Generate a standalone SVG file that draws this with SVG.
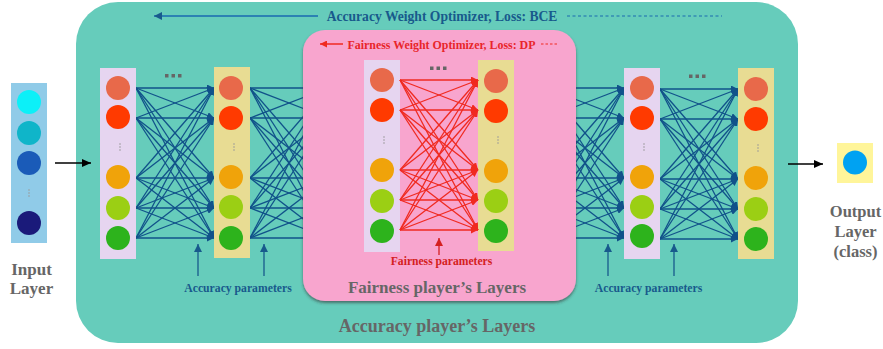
<svg xmlns="http://www.w3.org/2000/svg" xmlns:xlink="http://www.w3.org/1999/xlink" width="883" height="349" viewBox="0 0 883 349">
<style>
.lav{fill:#E6D5F0}
.yel{fill:#E8DC93}
.c1{fill:#E8694A}.c2{fill:#FF3A00}.c3{fill:#F0A30A}.c4{fill:#9BCF14}.c5{fill:#2DB31C}
.vd{fill:#999}
.sq{fill:#666}
.t{font-family:"Liberation Serif","Times New Roman",serif;font-weight:bold;text-anchor:middle}
.gray{fill:#666}
.blue{fill:#185A8C}
.red{fill:#E8252A}
.bl{stroke:#11528A;stroke-width:1.3;fill:none}
.rl{stroke:#F02A20;stroke-width:1.3;fill:none}
</style>
<defs>
<marker id="ab" markerUnits="userSpaceOnUse" markerWidth="8" markerHeight="7" refX="7" refY="3.5" orient="auto"><path d="M0,0 L7,3.5 L0,7 z" fill="#11528A"/></marker>
<marker id="ar" markerUnits="userSpaceOnUse" markerWidth="8" markerHeight="7" refX="7" refY="3.5" orient="auto"><path d="M0,0 L7,3.5 L0,7 z" fill="#F02A20"/></marker>
<marker id="ab2" markerUnits="userSpaceOnUse" markerWidth="9" markerHeight="8" refX="8" refY="4" orient="auto"><path d="M0,0 L8,4 L0,8 z" fill="#185A8C"/></marker>
<marker id="ar2" markerUnits="userSpaceOnUse" markerWidth="9" markerHeight="8" refX="8" refY="4" orient="auto"><path d="M0,0 L8,4 L0,8 z" fill="#D42020"/></marker>
<marker id="ak" markerUnits="userSpaceOnUse" markerWidth="10" markerHeight="8" refX="9" refY="4" orient="auto"><path d="M0,0 L9,4 L0,8 z" fill="#000"/></marker>
<g id="mesha">
<line x1="0" y1="0" x2="78" y2="0"/><line x1="0" y1="0" x2="78" y2="30"/><line x1="0" y1="0" x2="78" y2="90"/><line x1="0" y1="0" x2="78" y2="120"/><line x1="0" y1="0" x2="78" y2="150"/>
<line x1="0" y1="30" x2="78" y2="0"/><line x1="0" y1="30" x2="78" y2="30"/><line x1="0" y1="30" x2="78" y2="90"/><line x1="0" y1="30" x2="78" y2="120"/><line x1="0" y1="30" x2="78" y2="150"/>
<line x1="0" y1="90" x2="78" y2="0"/><line x1="0" y1="90" x2="78" y2="30"/><line x1="0" y1="90" x2="78" y2="90"/><line x1="0" y1="90" x2="78" y2="120"/><line x1="0" y1="90" x2="78" y2="150"/>
<line x1="0" y1="120" x2="78" y2="0"/><line x1="0" y1="120" x2="78" y2="30"/><line x1="0" y1="120" x2="78" y2="90"/><line x1="0" y1="120" x2="78" y2="120"/><line x1="0" y1="120" x2="78" y2="150"/>
<line x1="0" y1="150" x2="78" y2="0"/><line x1="0" y1="150" x2="78" y2="30"/><line x1="0" y1="150" x2="78" y2="90"/><line x1="0" y1="150" x2="78" y2="120"/><line x1="0" y1="150" x2="78" y2="150"/>
</g>
<filter id="sh" x="-5%" y="-5%" width="110%" height="115%"><feDropShadow dx="0" dy="2" stdDeviation="1.5" flood-color="#333" flood-opacity="0.6"/></filter>
</defs>

<rect id="accuracy-box" x="76" y="2" width="722" height="341" rx="42" fill="#66CCBB"/>

<g id="input-layer">
<rect x="11" y="83" width="36" height="160" fill="#90CBE8"/>
<circle cx="29" cy="102" r="12" fill="#0CF0F8"/>
<circle cx="29" cy="133" r="12" fill="#0FB5C9"/>
<circle cx="29" cy="163" r="12" fill="#1A5BB8"/>
<circle cx="29" cy="190" r="0.8" class="vd"/><circle cx="29" cy="193" r="0.8" class="vd"/><circle cx="29" cy="196" r="0.8" class="vd"/>
<circle cx="29" cy="223" r="12" fill="#1A1A7A"/>
<text class="t gray" x="31.5" y="275" font-size="17">Input</text>
<text class="t gray" x="31.5" y="294" font-size="17">Layer</text>
</g>

<g id="connectors">
<use xlink:href="#mesha" class="bl" transform="translate(250,88)"/>
<use xlink:href="#mesha" class="bl" marker-end="url(#ab)" transform="translate(546,88)"/>
<use xlink:href="#mesha" class="bl" marker-end="url(#ab)" transform="translate(136,88)"/>
<use xlink:href="#mesha" class="bl" marker-end="url(#ab)" transform="translate(660,89)"/>
<line x1="55" y1="163" x2="91" y2="163" stroke="#000" stroke-width="1.6" marker-end="url(#ak)"/>
<line x1="788" y1="164" x2="823" y2="164" stroke="#000" stroke-width="1.6" marker-end="url(#ak)"/>
<line x1="318" y1="16" x2="154" y2="16" stroke="#1A6AB0" stroke-width="1.3" marker-end="url(#ab2)"/>
<line x1="567" y1="16" x2="722" y2="16" stroke="#1A6AB0" stroke-width="1.2" stroke-dasharray="3,2.5"/>
<line x1="198" y1="276" x2="198" y2="244" stroke="#185A8C" stroke-width="1.3" marker-end="url(#ab2)"/>
<line x1="264" y1="276" x2="264" y2="244" stroke="#185A8C" stroke-width="1.3" marker-end="url(#ab2)"/>
<line x1="608" y1="276" x2="608" y2="244" stroke="#185A8C" stroke-width="1.3" marker-end="url(#ab2)"/>
<line x1="674" y1="276" x2="674" y2="244" stroke="#185A8C" stroke-width="1.3" marker-end="url(#ab2)"/>
</g>

<g id="layer1">
<rect x="100" y="68" width="36" height="191" class="lav"/>
<circle cx="118" cy="88" r="12" class="c1"/><circle cx="118" cy="117" r="12" class="c2"/>
<circle cx="120" cy="144" r="0.8" class="vd"/><circle cx="120" cy="147" r="0.8" class="vd"/><circle cx="120" cy="150" r="0.8" class="vd"/>
<circle cx="118" cy="177" r="12" class="c3"/><circle cx="118" cy="208" r="12" class="c4"/><circle cx="118" cy="238" r="12" class="c5"/>
</g>
<g id="dots1"><rect x="165" y="74" width="3.5" height="3.5" class="sq"/><rect x="171.5" y="74" width="3.5" height="3.5" class="sq"/><rect x="178" y="74" width="3.5" height="3.5" class="sq"/></g>
<g id="layer2">
<rect x="214" y="67" width="36" height="191" class="yel"/>
<circle cx="231" cy="88" r="12" class="c1"/><circle cx="231" cy="118" r="12" class="c2"/>
<circle cx="234" cy="144" r="0.8" class="vd"/><circle cx="234" cy="147" r="0.8" class="vd"/><circle cx="234" cy="150" r="0.8" class="vd"/>
<circle cx="231" cy="177" r="12" class="c3"/><circle cx="231" cy="207" r="12" class="c4"/><circle cx="231" cy="238" r="12" class="c5"/>
</g>

<g id="fairness-box">
<rect x="303" y="30" width="273" height="271" rx="22" fill="#F8A5CE" filter="url(#sh)"/>
<line x1="343" y1="44" x2="320" y2="44" stroke="#F02A20" stroke-width="1.5" marker-end="url(#ar)"/>
<line x1="541" y1="44" x2="557" y2="44" stroke="#F02A20" stroke-width="1.2" stroke-dasharray="2.5,2"/>
<text class="t red" x="441.5" y="48.5" font-size="11.9">Fairness Weight Optimizer, Loss: DP</text>
<text class="t gray" x="437" y="293" font-size="17">Fairness player’s Layers</text>
</g>

<g id="f-layer1">
<rect x="364" y="60" width="36" height="192" class="lav"/>
<circle cx="382" cy="80" r="12" class="c1"/><circle cx="382" cy="110" r="12" class="c2"/>
<circle cx="384" cy="137" r="0.8" class="vd"/><circle cx="384" cy="140" r="0.8" class="vd"/><circle cx="384" cy="143" r="0.8" class="vd"/>
<circle cx="382" cy="170" r="12" class="c3"/><circle cx="382" cy="201" r="12" class="c4"/><circle cx="382" cy="231" r="12" class="c5"/>
</g>
<g id="dots2"><rect x="430" y="66.5" width="3.5" height="3.5" class="sq"/><rect x="436.5" y="66.5" width="3.5" height="3.5" class="sq"/><rect x="443" y="66.5" width="3.5" height="3.5" class="sq"/></g>
<g id="f-layer2">
<rect x="478" y="60" width="36" height="191" class="yel"/>
<circle cx="496" cy="81" r="12" class="c1"/><circle cx="496" cy="111" r="12" class="c2"/>
<circle cx="498" cy="137" r="0.8" class="vd"/><circle cx="498" cy="140" r="0.8" class="vd"/><circle cx="498" cy="143" r="0.8" class="vd"/>
<circle cx="496" cy="171" r="12" class="c3"/><circle cx="496" cy="201" r="12" class="c4"/><circle cx="496" cy="231" r="12" class="c5"/>
</g>
<g id="fairness-connectors">
<use xlink:href="#mesha" class="rl" marker-end="url(#ar)" transform="translate(400,80)"/>
<line x1="439" y1="255" x2="439" y2="238" stroke="#D42020" stroke-width="1.3" marker-end="url(#ar2)"/>
</g>
<text class="t" fill="#D42020" x="441.5" y="265" font-size="11.6">Fairness parameters</text>

<g id="layer3">
<rect x="624" y="68" width="36" height="191" class="lav"/>
<circle cx="642" cy="88" r="12" class="c1"/><circle cx="642" cy="118" r="12" class="c2"/>
<circle cx="644" cy="144" r="0.8" class="vd"/><circle cx="644" cy="147" r="0.8" class="vd"/><circle cx="644" cy="150" r="0.8" class="vd"/>
<circle cx="642" cy="177" r="12" class="c3"/><circle cx="642" cy="207" r="12" class="c4"/><circle cx="642" cy="236" r="12" class="c5"/>
</g>
<g id="dots3"><rect x="689" y="74.5" width="3.5" height="3.5" class="sq"/><rect x="695.5" y="74.5" width="3.5" height="3.5" class="sq"/><rect x="702" y="74.5" width="3.5" height="3.5" class="sq"/></g>
<g id="layer4">
<rect x="738" y="68" width="36" height="191" class="yel"/>
<circle cx="756" cy="89" r="12" class="c1"/><circle cx="756" cy="119" r="12" class="c2"/>
<circle cx="758" cy="145" r="0.8" class="vd"/><circle cx="758" cy="148" r="0.8" class="vd"/><circle cx="758" cy="151" r="0.8" class="vd"/>
<circle cx="756" cy="178" r="12" class="c3"/><circle cx="756" cy="209" r="12" class="c4"/><circle cx="756" cy="239" r="12" class="c5"/>
</g>

<g id="output-layer">
<rect x="837" y="143" width="36" height="40" fill="#FFF59A"/>
<circle cx="855" cy="162.5" r="12" fill="#00A2F2"/>
<text class="t gray" x="855.5" y="217" font-size="16.5">Output</text>
<text class="t gray" x="855.5" y="237" font-size="16.5">Layer</text>
<text class="t gray" x="855.5" y="257" font-size="16.5">(class)</text>
</g>

<g id="labels">
<text class="t blue" x="442" y="20.5" font-size="13.6">Accuracy Weight Optimizer, Loss: BCE</text>
<text class="t blue" x="238" y="292" font-size="11.7">Accuracy parameters</text>
<text class="t blue" x="648.5" y="292" font-size="11.7">Accuracy parameters</text>
<text class="t gray" x="437" y="332" font-size="18">Accuracy player’s Layers</text>
</g>
</svg>
